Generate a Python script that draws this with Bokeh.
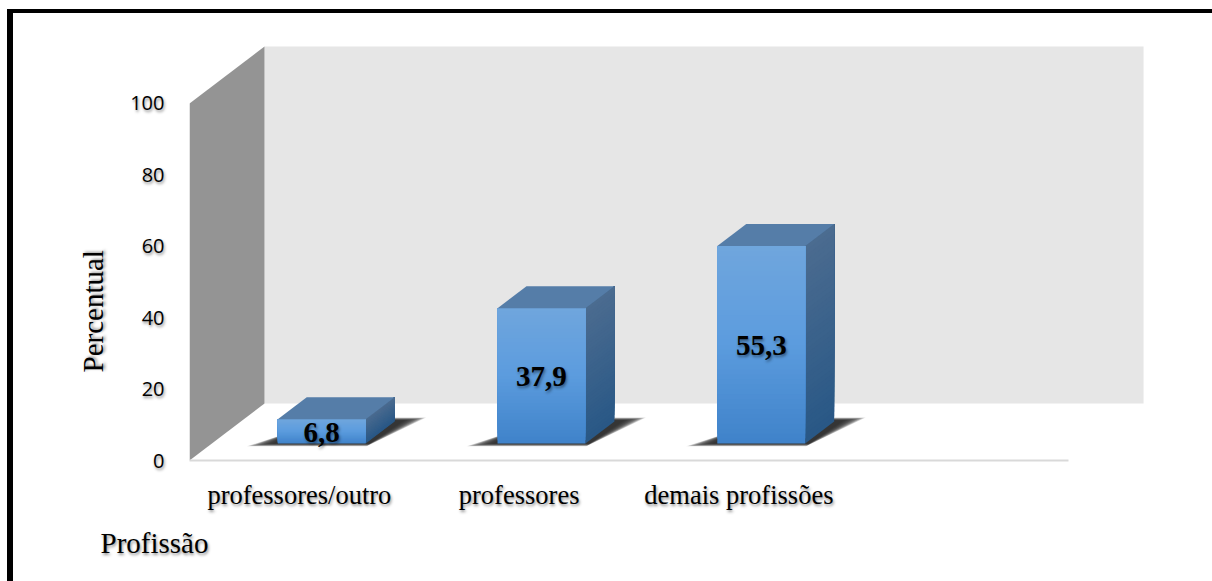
from bokeh.embed import file_html
from bokeh.resources import INLINE
from bokeh.plotting import figure
from bokeh.models import FixedTicker, Title, InlineStyleSheet
from bokeh.core.properties import value

# Chart content
categories = ["professores/outro", "professores", "demais profissões"]
percentages = [6.8, 37.9, 55.3]
value_ticks = [0, 20, 40, 60, 80, 100]
y_title = "Percentual"
x_title = "Profissão"

SERIF = "Liberation Serif"
WIDTH, HEIGHT = 1212, 581
LEFT, BOTTOM_EDGE = 189, 460

# Oblique projection: a point on the floor at depth d (0 front, 1 back)
# is shifted right and upwards by a fixed share of the axis units.
DEPTH_X = 0.3413
DEPTH_Y = 15.97
BAR_HALF = 0.2
BAR_FRONT, BAR_BACK = 0.298, 0.684


def project(x, v, d):
    return x + DEPTH_X * d, v + DEPTH_Y * d


def mix(a, b, t):
    rgb = [round(a[k] + (b[k] - a[k]) * t) for k in range(3)]
    return "#%02x%02x%02x" % tuple(rgb)


p = figure(
    width=WIDTH, height=HEIGHT, output_backend="svg", toolbar_location=None,
    x_range=(-0.5, 4.155), y_range=(0, 128.85),
    min_border_left=LEFT, min_border_right=0, min_border_top=0,
    min_border_bottom=HEIGHT - BOTTOM_EDGE,
    background_fill_color="white", border_fill_color="white",
    outline_line_color=None,
)
p.xgrid.visible = False
p.ygrid.visible = False

# Back wall and side wall
wall_l, wall_r = -0.5, 3.5
corners = [project(wall_l, 0, 1), project(wall_r, 0, 1), project(wall_r, 100, 1), project(wall_l, 100, 1)]
p.patch([c[0] for c in corners], [c[1] for c in corners], fill_color="#e6e6e6", line_color=None)
corners = [project(wall_l, 0, 0), project(wall_l, 0, 1), project(wall_l, 100, 1), project(wall_l, 100, 0)]
p.patch([c[0] for c in corners], [c[1] for c in corners], fill_color="#949494", line_color=None)

FRONT_TOP, FRONT_MID, FRONT_BOTTOM = (112, 166, 221), (92, 156, 222), (64, 131, 202)
SIDE_TOP, SIDE_BOTTOM = (76, 108, 144), (41, 88, 134)
ROOF = "#557da8"
STEPS = 40
SHADOW_LAYERS = 16

for i, pct in enumerate(percentages):
    # Soft contact shadow, built from shrinking translucent floor shapes
    for k in range(SHADOW_LAYERS):
        s = 1 - k / SHADOW_LAYERS
        reach = s ** 0.6
        d_lo = BAR_FRONT - 0.05 * s
        d_hi = BAR_BACK + 0.02 + 0.05 * s
        pts = [
            project(i - BAR_HALF - 0.125 * reach, 0, d_lo),
            project(i + BAR_HALF + 0.02, 0, d_lo),
            project(i + BAR_HALF + 0.02 + 0.1 * reach, 0, d_hi),
            project(i + BAR_HALF - 0.05, 0, d_hi),
            project(i - BAR_HALF, 0, BAR_FRONT + 0.22),
        ]
        p.patch([q[0] for q in pts], [q[1] for q in pts], fill_color="black", fill_alpha=0.09, line_color=None)

    l, r = i - BAR_HALF, i + BAR_HALF
    # Side face, with a vertical gradient painted from the bottom upwards
    for k in range(STEPS):
        t = k / STEPS
        v = pct * t
        pts = [project(r, v, BAR_FRONT), project(r, v, BAR_BACK), project(r, pct, BAR_BACK), project(r, pct, BAR_FRONT)]
        p.patch([q[0] for q in pts], [q[1] for q in pts], fill_color=mix(SIDE_BOTTOM, SIDE_TOP, t), line_color=None)
    # Front face
    for k in range(STEPS):
        t = k / STEPS
        v = pct * t
        colour = mix(FRONT_BOTTOM, FRONT_MID, t * 2) if t < 0.5 else mix(FRONT_MID, FRONT_TOP, t * 2 - 1)
        pts = [project(l, v, BAR_FRONT), project(r, v, BAR_FRONT), project(r, pct, BAR_FRONT), project(l, pct, BAR_FRONT)]
        p.patch([q[0] for q in pts], [q[1] for q in pts], fill_color=colour, line_color=None)
    # Roof
    pts = [project(l, pct, BAR_FRONT), project(r, pct, BAR_FRONT), project(r, pct, BAR_BACK), project(l, pct, BAR_BACK)]
    p.patch([q[0] for q in pts], [q[1] for q in pts], fill_color=ROOF, line_color=None)

# Value labels centred on each front face
label_pos = [project(i, pct / 2, BAR_FRONT) for i, pct in enumerate(percentages)]
p.text(
    x=[q[0] for q in label_pos], y=[q[1] - 0.2 for q in label_pos],
    text=[f"{pct:.1f}".replace(".", ",") for pct in percentages],
    text_font=value(SERIF), text_font_style="bold", text_font_size="29px",
    text_align="center", text_baseline="middle", text_color="black",
)

# Axes
p.xaxis.ticker = FixedTicker(ticks=list(range(len(categories))))
p.xaxis.major_label_overrides = {i: c for i, c in enumerate(categories)}
p.xaxis.bounds = (-0.5, 3.5)
p.xaxis.axis_line_color = "#d9d9d9"
p.xaxis.axis_line_width = 2
p.xaxis.major_tick_line_color = None
p.xaxis.minor_tick_line_color = None
p.xaxis.major_label_text_font = SERIF
p.xaxis.major_label_text_font_size = "26.5px"
p.xaxis.major_label_text_color = "black"
p.xaxis.major_label_standoff = 13

p.yaxis.ticker = FixedTicker(ticks=value_ticks)
p.yaxis.axis_line_color = None
p.yaxis.major_tick_line_color = None
p.yaxis.minor_tick_line_color = None
p.yaxis.major_label_text_font = "Open Sans"
p.yaxis.major_label_text_font_size = "20px"
p.yaxis.major_label_text_color = "black"
p.yaxis.major_label_standoff = 19

# Axis titles sit in the side panels, away from the frame's centre
p.add_layout(Title(text=y_title, align="left", offset=88, standoff=38,
                   text_font=SERIF, text_font_style="normal", text_font_size="29px", text_color="black"), "left")
p.add_layout(Title(text=x_title, align="left", offset=-89, standoff=24,
                   text_font=SERIF, text_font_style="normal", text_font_size="29px", text_color="black"), "below")

# Heavy rule along the top and left page edges; soft shadow on every text
p.stylesheets = [InlineStyleSheet(css="""
:host { text-shadow: 1px 2px 3px rgba(0,0,0,0.45); }
:host::after {
  content: ""; position: absolute; left: 7px; top: 9px; right: 0; bottom: 0;
  border-left: 6px solid #000; border-top: 4px solid #000; pointer-events: none;
}
""")]

open("out.html", "w").write(file_html(p, INLINE))
